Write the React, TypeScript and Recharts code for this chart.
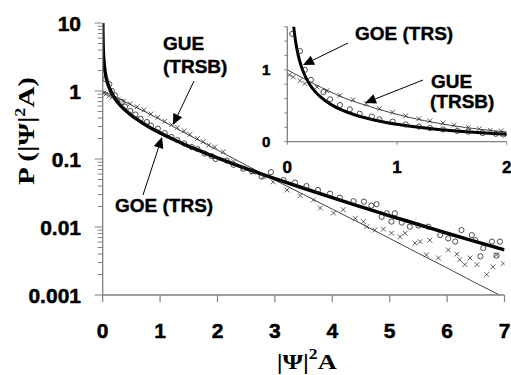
import React from 'react';
import { ComposedChart, Line, Scatter, XAxis, YAxis } from 'recharts';

// theory curves
const GOE_X = [0.0015, 0.002, 0.005, 0.01, 0.02, 0.03, 0.04, 0.05, 0.06, 0.075, 0.1, 0.125, 0.15, 0.2, 0.25, 0.3, 0.4, 0.5, 0.6, 0.7, 0.8, 0.9, 1.0, 1.2, 1.4, 1.6, 1.8, 2.0, 2.5, 3, 3.5, 4, 4.5, 5, 5.5, 6, 6.5, 7];
const GOE_Y = [10.3, 8.9, 5.6, 3.97, 2.79, 2.27, 1.96, 1.74, 1.58, 1.4, 1.2, 1.06, 0.956, 0.807, 0.704, 0.627, 0.516, 0.439, 0.382, 0.336, 0.299, 0.268, 0.242, 0.2, 0.167, 0.142, 0.121, 0.104, 0.0723, 0.0514, 0.0371, 0.027, 0.0198, 0.0146, 0.0109, 0.0081, 0.0061, 0.0046];
const GUE_X = [0, 0.25, 0.5, 0.75, 1, 1.5, 2, 2.5, 3, 3.5, 4, 4.5, 5, 5.5, 6, 6.5, 7];
const GUE_Y = [1, 0.8, 0.62, 0.49, 0.38, 0.225, 0.135, 0.081, 0.049, 0.03, 0.0183, 0.0112, 0.0068, 0.0041, 0.0025, 0.0015, 0.00092];

// measured: circles = TRS, crosses = TRSB
const TRS_X = [0.045, 0.115, 0.16, 0.215, 0.33, 0.39, 0.48, 0.57, 0.66, 0.77, 0.84, 0.96, 1.08, 1.2, 1.3, 1.42, 1.55, 1.65, 1.78, 1.9, 1.97, 2.16, 2.28, 2.45, 2.6, 2.77, 2.93, 3.15, 3.35, 3.55, 3.75, 3.96, 4.13, 4.37, 4.55, 4.68, 4.77, 4.86, 4.95, 5.03, 5.09, 5.21, 5.35, 5.5, 5.67, 5.88, 6.02, 6.14, 6.25, 6.43, 6.49, 6.58, 6.63, 6.78, 6.86, 6.92];
const TRS_Y = [1.5, 1.26, 1.0, 0.86, 0.69, 0.59, 0.51, 0.45, 0.39, 0.35, 0.31, 0.28, 0.24, 0.21, 0.19, 0.17, 0.15, 0.14, 0.12, 0.11, 0.1, 0.095, 0.082, 0.072, 0.066, 0.055, 0.064, 0.049, 0.045, 0.04, 0.035, 0.031, 0.027, 0.024, 0.0236, 0.0206, 0.0216, 0.0141, 0.0159, 0.012, 0.0159, 0.0116, 0.0101, 0.0105, 0.0101, 0.0076, 0.0068, 0.0061, 0.009, 0.0076, 0.0064, 0.0037, 0.0049, 0.0061, 0.0038, 0.0061];
const TRSB_X = [0.02, 0.055, 0.115, 0.16, 0.27, 0.36, 0.48, 0.6, 0.72, 0.84, 0.96, 1.08, 1.2, 1.3, 1.42, 1.52, 1.65, 1.75, 1.85, 1.95, 2.1, 2.28, 2.45, 2.62, 2.8, 2.97, 3.21, 3.44, 3.67, 3.79, 4.02, 4.19, 4.4, 4.54, 4.6, 4.74, 4.89, 5.03, 5.18, 5.27, 5.44, 5.53, 5.64, 5.7, 5.85, 6.02, 6.17, 6.22, 6.31, 6.4, 6.52, 6.69, 6.8, 6.86, 6.98];
const TRSB_Y = [0.93, 0.9, 0.85, 0.81, 0.76, 0.71, 0.645, 0.585, 0.53, 0.46, 0.41, 0.36, 0.32, 0.29, 0.26, 0.23, 0.2, 0.18, 0.16, 0.15, 0.128, 0.091, 0.073, 0.064, 0.055, 0.046, 0.035, 0.029, 0.025, 0.019, 0.016, 0.018, 0.0134, 0.012, 0.0101, 0.009, 0.0093, 0.0081, 0.0072, 0.0081, 0.0058, 0.0061, 0.0039, 0.0064, 0.0035, 0.0046, 0.004, 0.0033, 0.0028, 0.0035, 0.0028, 0.002, 0.0026, 0.0039, 0.0029];

const X_TICKS = [0, 1, 2, 3, 4, 5, 6, 7];
const DECADES = [0.001, 0.01, 0.1, 1];
const Y_TICKS = [...DECADES.flatMap(d => [1, 2, 3, 4, 5, 6, 7, 8, 9].map(m => +(m * d).toPrecision(3))), 10];
const INSET_X_TICKS = [0, 1, 2];
const INSET_Y_TICKS = [0, 0.2, 0.4, 0.6, 0.8, 1, 1.2, 1.4, 1.6];

const AXIS = '#808080';
const SANS = '"Liberation Sans", Arial, sans-serif';
const SERIF = '"Liberation Serif", "Times New Roman", serif';

const pts = (xs: number[], ys: number[]) => xs.map((x, i) => ({ x, y: ys[i] }));
const goe = pts(GOE_X, GOE_Y);
const gue = pts(GUE_X, GUE_Y);
const trs = pts(TRS_X, TRS_Y);
const trsb = pts(TRSB_X, TRSB_Y);
const upTo = (d: { x: number; y: number }[], max: number) => d.filter(p => p.x <= max);

const isDecade = (v: number) => Math.abs(Math.log10(v) - Math.round(Math.log10(v))) < 1e-6;

// the original labels are heavier than plain bold, thicken them a little
const heavy = { fontFamily: SANS, fontWeight: 'bold' as const, fill: '#000', stroke: '#000', strokeWidth: 0.5 };

function Circle(props: any) {
  const { cx, cy } = props;
  if (cx == null || cy == null) return null;
  return <circle cx={cx} cy={cy} r={2.6} fill="none" stroke="#222" strokeWidth={0.8} />;
}

function Cross(props: any) {
  const { cx, cy } = props;
  if (cx == null || cy == null) return null;
  const s = 2.4;
  return (
    <g stroke="#333" strokeWidth={0.8}>
      <line x1={cx - s} y1={cy - s} x2={cx + s} y2={cy + s} />
      <line x1={cx - s} y1={cy + s} x2={cx + s} y2={cy - s} />
    </g>
  );
}

function MainYTick({ x, y, payload }: any) {
  const major = isDecade(payload.value);
  return (
    <g>
      <line x1={x} x2={x - (major ? 8 : 5)} y1={y} y2={y} stroke={AXIS} strokeWidth={1} />
      {major && (
        <text x={81} y={y + 8} textAnchor="end" fontSize={21} {...heavy}>
          {String(payload.value)}
        </text>
      )}
    </g>
  );
}

function MainXTick({ x, y, payload }: any) {
  return (
    <g>
      <line x1={x} x2={x} y1={y} y2={y + 7} stroke={AXIS} strokeWidth={1.2} />
      <text x={x} y={y + 43} textAnchor="middle" fontSize={21} {...heavy}>
        {payload.value}
      </text>
    </g>
  );
}

function InsetYTick({ x, y, payload }: any) {
  const v = payload.value;
  const labelled = v === 0 || v === 1;
  return (
    <g>
      <line x1={x} x2={x - 3} y1={y} y2={y} stroke={AXIS} strokeWidth={1} />
      {labelled && (
        <text x={x - 17} y={y + 5.5} textAnchor="end" fontSize={15} {...heavy}>
          {v}
        </text>
      )}
    </g>
  );
}

function InsetXTick({ x, y, payload }: any) {
  return (
    <g>
      <line x1={x} x2={x} y1={y} y2={y + 3} stroke={AXIS} strokeWidth={1} />
      <text x={x} y={y + 31.5} textAnchor="middle" fontSize={17} {...heavy}>
        {payload.value}
      </text>
    </g>
  );
}

function Arrow({ x1, y1, x2, y2 }: { x1: number; y1: number; x2: number; y2: number }) {
  const a = Math.atan2(y2 - y1, x2 - x1);
  const len = 11, hw = 5;
  const bx = x2 - len * Math.cos(a), by = y2 - len * Math.sin(a);
  const px = -Math.sin(a) * hw, py = Math.cos(a) * hw;
  return (
    <g>
      <line x1={x1} y1={y1} x2={bx} y2={by} stroke="#000" strokeWidth={1} />
      <polygon points={`${x2},${y2} ${bx + px},${by + py} ${bx - px},${by - py}`} fill="#000" />
    </g>
  );
}

const annoStyle = { ...heavy, fontSize: 19, strokeWidth: 0.4 };

export default function App() {
  return (
    <div style={{ position: 'absolute', left: 0, top: 0, width: 511, height: 375, background: '#fff' }}>
      <ComposedChart width={511} height={375} margin={{ top: 23, right: 6.5, bottom: 50, left: 0 }}>
        <XAxis type="number" dataKey="x" domain={[0, 7]} ticks={X_TICKS} interval={0} allowDataOverflow
          height={30} tickSize={0} tickMargin={0} tick={(p: any) => <MainXTick {...p} />}
          axisLine={{ stroke: AXIS, strokeWidth: 1.3 }} />
        <YAxis type="number" dataKey="y" scale="log" domain={[0.001, 10]} ticks={Y_TICKS} interval={0} allowDataOverflow
          width={102.7} tickSize={0} tickMargin={0} tick={(p: any) => <MainYTick {...p} />}
          axisLine={{ stroke: AXIS, strokeWidth: 1.3 }} />
        <Scatter data={trs} dataKey="y" shape={Circle} isAnimationActive={false} />
        <Scatter data={trsb} dataKey="y" shape={Cross} isAnimationActive={false} />
        <Line data={gue} dataKey="y" type="monotone" stroke="#444" strokeWidth={1} dot={false} activeDot={false} isAnimationActive={false} />
        <Line data={goe} dataKey="y" type="monotone" stroke="#000" strokeWidth={3.5} dot={false} activeDot={false} isAnimationActive={false} />
      </ComposedChart>

      <div style={{ position: 'absolute', left: 230, top: 0 }}>
        <ComposedChart width={281} height={180} margin={{ top: 26.7, right: 4.3, bottom: 8.3, left: 17.3 }}>
          <XAxis type="number" dataKey="x" domain={[0, 2]} ticks={INSET_X_TICKS} interval={0} allowDataOverflow
            height={30} tickSize={0} tickMargin={0} tick={(p: any) => <InsetXTick {...p} />}
            axisLine={{ stroke: AXIS, strokeWidth: 1.3 }} />
          <YAxis type="number" dataKey="y" domain={[0, 1.6]} ticks={INSET_Y_TICKS} interval={0} allowDataOverflow
            width={40} tickSize={0} tickMargin={0} tick={(p: any) => <InsetYTick {...p} />}
            axisLine={{ stroke: AXIS, strokeWidth: 1.3 }} />
          <Scatter data={upTo(trs, 2)} dataKey="y" shape={Circle} isAnimationActive={false} />
          <Scatter data={upTo(trsb, 2)} dataKey="y" shape={Cross} isAnimationActive={false} />
          <Line data={upTo(gue, 2)} dataKey="y" type="monotone" stroke="#444" strokeWidth={1} dot={false} activeDot={false} isAnimationActive={false} />
          <Line data={upTo(goe, 2.5)} dataKey="y" type="monotone" stroke="#000" strokeWidth={3} dot={false} activeDot={false} isAnimationActive={false} />
        </ComposedChart>
      </div>

      <svg width={511} height={375} style={{ position: 'absolute', left: 0, top: 0, pointerEvents: 'none' }}>
        {/* axis titles */}
        <text transform="translate(34,131) rotate(-90)" textAnchor="middle" fontFamily={SERIF} fontWeight="bold" fontSize={24}
          textLength={108} lengthAdjust="spacingAndGlyphs">
          P (|Ψ|<tspan dy={-9} fontSize={15}>2</tspan><tspan dy={9}>A)</tspan>
        </text>
        <text x={276.7} y={369} fontFamily={SERIF} fontWeight="bold" fontSize={21} textLength={60} lengthAdjust="spacingAndGlyphs">
          |Ψ|<tspan dy={-10} fontSize={14}>2</tspan><tspan dy={10}>A</tspan>
        </text>

        {/* main annotations */}
        <text x={163} y={50} {...annoStyle}>GUE</text>
        <text x={163} y={73} {...annoStyle}>(TRSB)</text>
        <Arrow x1={194} y1={81} x2={173} y2={125} />
        <text x={115} y={212} {...annoStyle}>GOE (TRS)</text>
        <Arrow x1={143} y1={195} x2={162} y2={137} />

        {/* inset annotations */}
        <text x={355} y={40} {...annoStyle}>GOE (TRS)</text>
        <Arrow x1={348} y1={43} x2={303} y2={65} />
        <text x={431} y={88} {...annoStyle}>GUE</text>
        <text x={430} y={108} {...annoStyle}>(TRSB)</text>
        <Arrow x1={423} y1={80} x2={365} y2={103} />
      </svg>
    </div>
  );
}
